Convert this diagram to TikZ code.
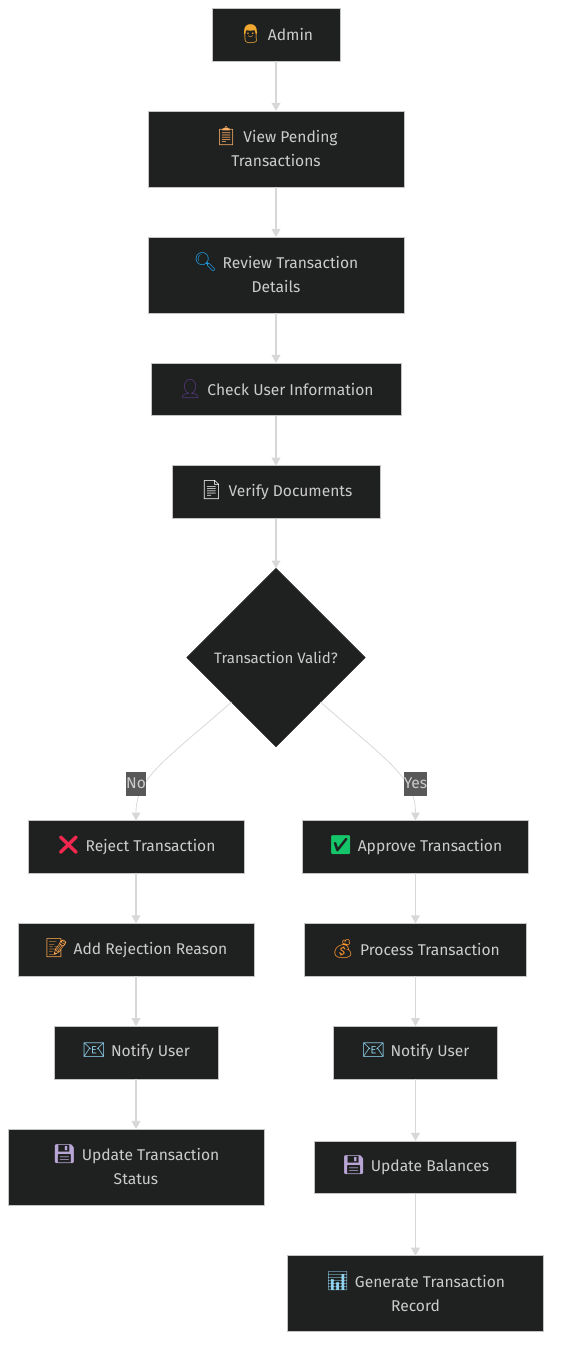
\documentclass[tikz,border=0pt]{standalone}
\usepackage{fontspec}
\usepackage{xcolor}
\usetikzlibrary{arrows.meta, positioning, shapes.geometric}
\setmainfont{Fira Sans}
\newfontfamily\emojifont{Noto Emoji}
\definecolor{nodebg}{HTML}{1F2020}
\definecolor{nodeline}{HTML}{C4C4C4}
\definecolor{nodetext}{HTML}{CCCCCC}
\definecolor{edgeline}{HTML}{D8D8D8}
\definecolor{labelbg}{HTML}{585858}
\definecolor{emojired}{HTML}{F4284F}
\definecolor{emojigreen}{HTML}{14C669}
\definecolor{emojigold}{HTML}{F0A830}
\definecolor{emojiblue}{HTML}{1E9BE0}
\definecolor{emojimail}{HTML}{8FD3F0}
\definecolor{emojidisk}{HTML}{B9A6D6}
\definecolor{emojibust}{HTML}{5A3A85}
\newcommand{\emo}[2]{\smash{\fontsize{14pt}{18pt}\emojifont\textcolor{#1}{#2}}\hspace{4pt}}

\begin{document}
\begin{tikzpicture}[
    node distance=37.5pt,
    stepbox/.style={draw=nodeline, fill=nodebg, text=nodetext, line width=0.6pt, minimum height=39.6pt,
      inner sep=0pt, outer sep=0pt, align=center, font=\fontsize{11.7pt}{18pt}\selectfont},
    tallbox/.style={stepbox, minimum height=57pt},
    decision/.style={stepbox, draw=nodebg, shape=diamond, aspect=1, minimum width=133.5pt, minimum height=133.5pt,
      font=\fontsize{11.3pt}{18pt}\selectfont},
    arrow/.style={-{Triangle[width=6.5pt, length=6pt]}, line width=1.2pt, draw=edgeline},
    curvearrow/.style={-{Triangle[width=6.5pt, length=6pt]}, line width=0.6pt, draw=edgeline},
    edgelabel/.style={fill=labelbg, text=nodetext, inner xsep=0pt, inner ysep=0pt, minimum height=18pt,
      font=\fontsize{11.7pt}{18pt}\selectfont}
]
\useasboundingbox (0,0) rectangle (420pt,-1018.5pt);

% Review chain
\node[stepbox, minimum width=96pt] at (207pt,-25.9pt) (admin) {\emo{emojigold}{👨}Admin};
\node[tallbox, minimum width=192pt, below=of admin] (pending) {\emo{orange!60!white}{📋}View Pending\\Transactions};
\node[tallbox, minimum width=192pt, below=of pending] (review) {\emo{emojiblue}{🔍}Review Transaction\\Details};
\node[stepbox, minimum width=187.5pt, below=of review] (checkuser) {\emo{emojibust}{👤}Check User Information};
\node[stepbox, minimum width=156pt, below=of checkuser] (verify) {\emo{white}{📄}Verify Documents};
\node[decision, below=of verify] (valid) {Transaction Valid?};

% Rejected branch
\node[stepbox, minimum width=162pt, below=55.5pt of valid, xshift=-105pt] (reject) {\emo{emojired}{❌}Reject Transaction};
\node[stepbox, minimum width=177pt, below=of reject] (reason) {\emo{orange!70!white}{📝}Add Rejection Reason};
\node[stepbox, minimum width=123pt, below=of reason] (notifyno) {\emo{emojimail}{📧}Notify User};
\node[tallbox, minimum width=192pt, below=of notifyno] (statusno) {\emo{emojidisk}{💾}Update Transaction\\Status};

% Approved branch
\node[stepbox, minimum width=170pt, below=55.5pt of valid, xshift=104.6pt] (approve) {\emo{emojigreen}{✅}Approve Transaction};
\node[stepbox, minimum width=167pt, below=of approve] (process) {\emo{orange!80!white}{💰}Process Transaction};
\node[stepbox, minimum width=123pt, below=of process] (notifyyes) {\emo{emojimail}{📧}Notify User};
\node[stepbox, minimum width=152pt, below=46.5pt of notifyyes] (balances) {\emo{emojidisk}{💾}Update Balances};
\node[tallbox, minimum width=192pt, below=46.5pt of balances] (record) {\emo{emojimail}{📊}Generate Transaction\\Record};

% Straight arrows
\draw[arrow] (admin) -- (pending);
\draw[arrow] (pending) -- (review);
\draw[arrow] (review) -- (checkuser);
\draw[arrow] (checkuser) -- (verify);
\draw[arrow] (verify) -- (valid);
\draw[arrow] (reject) -- (reason);
\draw[arrow] (reason) -- (notifyno);
\draw[arrow] (notifyno) -- (statusno);
\draw[arrow] (approve) -- (process);
\draw[arrow] (process) -- (notifyyes);
\draw[arrow] (notifyyes) -- (balances);
\draw[arrow] (balances) -- (record);

% Branches out of the decision
\draw[curvearrow] (valid.south west) .. controls +(-50pt,-44pt) and +(0pt,32pt) .. (reject.north);
\draw[curvearrow] (valid.south east) .. controls +(50pt,-44pt) and +(0pt,32pt) .. (approve.north);
\node[edgelabel, above=18.5pt of reject] (nolabel) {No};
\node[edgelabel, above=18.5pt of approve] (yeslabel) {Yes};

\end{tikzpicture}
\end{document}
